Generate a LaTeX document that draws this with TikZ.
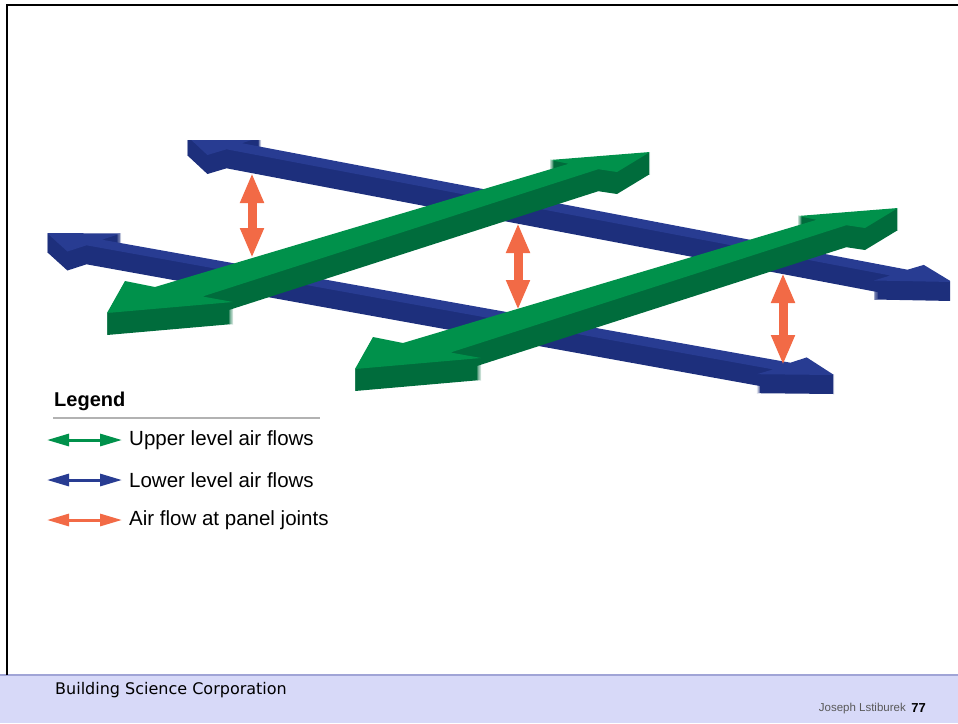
\documentclass[tikz,border=0pt]{standalone}
\usepackage{fontspec}
\setmainfont{Liberation Sans}
\newfontfamily\footfont{DejaVu Sans}
\usetikzlibrary{arrows.meta}
\definecolor{uppergreen}{RGB}{0,145,75}
\definecolor{uppergreenside}{RGB}{0,108,60}
\definecolor{lowerblue}{RGB}{40,60,146}
\definecolor{lowerblueside}{RGB}{29,47,124}
\definecolor{jointorange}{RGB}{242,106,70}
\definecolor{footerfill}{RGB}{215,217,248}
\definecolor{footerline}{RGB}{160,164,214}

% 3D flow bar: top colour, side colour, thickness, outline of the top face
\newcommand{\flowbar}[4]{%
  \foreach \k in {1,...,#3}{\fill[#2, yshift=-\k*1pt] #4;}
  \fill[#1] #4;
}

\begin{document}
\begin{tikzpicture}[x=1pt, y=-1pt,
    legendtext/.style={anchor=west, inner sep=0pt, font=\fontsize{20.5}{24}\selectfont},
    legendarrow/.style={line width=3pt, {Triangle[width=12pt,length=22pt]}-{Triangle[width=12pt,length=22pt]}},
    joint/.style={jointorange, line width=9pt, {Triangle[width=22pt,length=30pt]}-{Triangle[width=22pt,length=30pt]}}
]
    \useasboundingbox (0,0) rectangle (958,723);

    % frame and footer
    \fill[footerfill] (0,675) rectangle (958,723);
    \draw[footerline, line width=1.5pt] (0,675) -- (958,675);
    \draw[line width=2.5pt] (7,675) -- (7,5) -- (958,5);

    \begin{scope}
    \clip (0,140) rectangle (950,723);
    % lower level
    \flowbar{lowerblue}{lowerblueside}{19}{(187,136) -- (261,137) -- (241.9,143.2) -- (907.5,269.7) -- (923.8,264.9) -- (952,282) -- (874,280.5) -- (890.3,275.5) -- (226.5,149.3) -- (207.4,155) -- cycle}
    \flowbar{lowerblue}{lowerblueside}{19}{(47,233) -- (121,233.5) -- (101.9,239.7) -- (790.4,362.7) -- (806.7,357.4) -- (834,375) -- (756.9,374.2) -- (773.2,369.4) -- (86.5,245.3) -- (67.4,251.5) -- cycle}

    % panel joints
    \coordinate (j1top) at (252,173);
    \coordinate (j1bot) at (252,258);
    \coordinate (j2top) at (518,223);
    \coordinate (j2bot) at (518,310);
    \coordinate (j3top) at (783,273);
    \coordinate (j3bot) at (783,365);
    \draw[joint] (j1top) -- (j1bot);
    \draw[joint] (j2top) -- (j2bot);
    \draw[joint] (j3top) -- (j3bot);

    % upper level
    \flowbar{uppergreen}{uppergreenside}{22}{(107,313) -- (125,281) -- (155,287) -- (568.7,163.8) -- (550,160) -- (650,152) -- (617,172) -- (598.3,169.2) -- (202.5,296.5) -- (233,302) -- cycle}
    \flowbar{uppergreen}{uppergreenside}{22}{(355,369) -- (373,337) -- (403,343) -- (816.7,219.8) -- (798,216) -- (898,208) -- (865,228) -- (846.3,225.2) -- (450.5,352.5) -- (481,358) -- cycle}
    \end{scope}

    % legend
    \node[legendtext, font=\fontsize{20}{24}\selectfont\bfseries] (legend) at (54,401) {Legend};
    \draw[gray!60, line width=1.5pt] (53,418) -- (320,418);
    \coordinate (upA) at (47,440);  \coordinate (upB) at (122,440);
    \coordinate (loA) at (47,480);  \coordinate (loB) at (122,480);
    \coordinate (jtA) at (47,520);  \coordinate (jtB) at (122,520);
    \draw[legendarrow, uppergreen] (upA) -- (upB);
    \draw[legendarrow, lowerblue] (loA) -- (loB);
    \draw[legendarrow, jointorange] (jtA) -- (jtB);
    \node[legendtext] (upper) at (129,440) {Upper level air flows};
    \node[legendtext] (lower) at (129,480) {Lower level air flows};
    \node[legendtext] (joints) at (129,520) {Air flow at panel joints};

    % footer text
    \node[anchor=west, inner sep=0pt, font=\footfont\fontsize{16}{19}\selectfont] (company) at (55,690) {Building Science Corporation};
    \node[anchor=east, inner sep=0pt, font=\fontsize{13}{15}\selectfont\bfseries] (page) at (926,708) {77};
    \node[anchor=east, inner sep=0pt, text=black!65, font=\fontsize{11.5}{14}\selectfont] (author) at (906,708.5) {Joseph Lstiburek};
\end{tikzpicture}
\end{document}
